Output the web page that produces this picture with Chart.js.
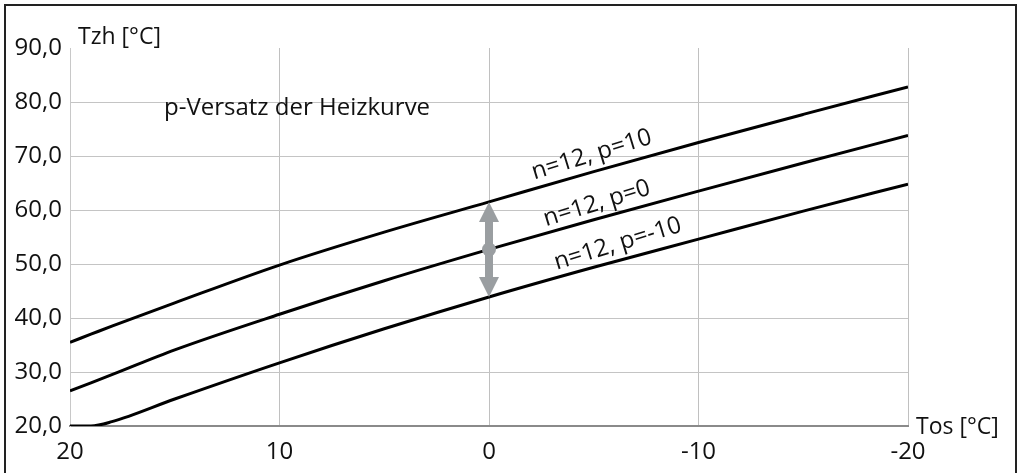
<!DOCTYPE html>
<html>
<head>
<meta charset="utf-8">
<script src="https://cdn.jsdelivr.net/npm/chart.js@4"></script>
<style>
  html, body { margin: 0; padding: 0; background: #fff; }
  #wrap { width: 1022px; height: 473px; position: relative; }
</style>
</head>
<body>
<div id="wrap"><canvas id="heizChart" width="1022" height="473"></canvas></div>
<script>
// Außentemperatur (Tos) und Vorlauftemperaturen (Tzh)
const tos = [20, 19, 18, 15, 10, 5, 0, -5, -10, -15, -20];
const tzhP10 = [35.5, 37.0, 38.5, 42.8, 49.8, 55.9, 61.5, 67.1, 72.5, 77.7, 82.8];
const tzhP0 = [26.5, 28.0, 29.5, 34.1, 40.7, 46.9, 52.7, 58.2, 63.5, 68.7, 73.8];
const tzhPm10 = [20.0, 20.0, 20.8, 25.0, 31.7, 38.0, 43.9, 49.4, 54.6, 59.8, 64.8];

// Beschriftungen der Kurven (Ankerpunkt in Datenkoordinaten)
const curveLabels = ['n=12, p=10', 'n=12, p=0', 'n=12, p=-10'];
const curveLabelTos = [-4.9, -5.15, -6.15];
const curveLabelTzh = [70.2, 61.2, 53.7];

const FONT = '"Open Sans", sans-serif';

function toPoints(ys) {
    return tos.map((x, i) => ({ x: x, y: ys[i] }));
}

function curve(ys) {
    return {
        data: toPoints(ys),
        borderColor: '#000',
        borderWidth: 3,
        pointRadius: 0,
        fill: false,
        cubicInterpolationMode: 'monotone'
    };
}

// Pfeil, Texte und Rahmen
const extras = {
    id: 'extras',
    afterDatasetsDraw(chart) {
        const c = chart.ctx;
        const xs = chart.scales.x;
        const ys = chart.scales.y;
        const a = chart.chartArea;
        const i0 = tos.indexOf(0);
        const px = xs.getPixelForValue(0);
        const yTop = ys.getPixelForValue(tzhP10[i0]);
        const yMid = ys.getPixelForValue(tzhP0[i0]);
        const yBot = ys.getPixelForValue(tzhPm10[i0]);

        c.save();
        c.fillStyle = '#9a9ea1';
        c.fillRect(px - 4, yTop + 18, 8, yBot - yTop - 36);
        c.beginPath();
        c.moveTo(px, yTop);
        c.lineTo(px + 10, yTop + 20);
        c.lineTo(px - 10, yTop + 20);
        c.closePath();
        c.fill();
        c.beginPath();
        c.moveTo(px, yBot);
        c.lineTo(px + 10, yBot - 20);
        c.lineTo(px - 10, yBot - 20);
        c.closePath();
        c.fill();
        c.beginPath();
        c.arc(px, yMid, 7, 0, Math.PI * 2);
        c.fill();

        c.fillStyle = '#111';
        c.font = '23px ' + FONT;
        c.textBaseline = 'middle';
        c.textAlign = 'left';
        c.fillText('Tzh [°C]', a.left + 8, a.top - 11);
        c.fillText('Tos [°C]', a.right + 8, a.bottom + 1);
        c.font = '24px ' + FONT;
        c.fillText('p-Versatz der Heizkurve', 164, 108);

        c.font = '24px ' + FONT;
        c.textAlign = 'center';
        curveLabels.forEach((t, i) => {
            c.save();
            c.translate(xs.getPixelForValue(curveLabelTos[i]), ys.getPixelForValue(curveLabelTzh[i]));
            c.rotate(-17 * Math.PI / 180);
            c.fillText(t, 0, 0);
            c.restore();
        });

        c.strokeStyle = '#222';
        c.lineWidth = 2;
        c.strokeRect(5, 5, 1011, 472);
        c.restore();
    }
};

const ctx = document.getElementById('heizChart').getContext('2d');

const heizChart = new Chart(ctx, {
    type: 'line',
    data: {
        datasets: [curve(tzhP10), curve(tzhP0), curve(tzhPm10)]
    },
    options: {
        responsive: false,
        animation: false,
        layout: { padding: { left: 0, right: 114, top: 48, bottom: 0 } },
        plugins: { legend: { display: false }, tooltip: { enabled: false } },
        scales: {
            x: {
                type: 'linear',
                reverse: true,
                min: -20,
                max: 20,
                afterFit(s) { s.height = 47; },
                ticks: {
                    stepSize: 10,
                    padding: 12,
                    color: '#111',
                    font: { family: FONT, size: 24 },
                    callback: v => String(v)
                },
                grid: { color: '#c0c0c0', lineWidth: 1, drawTicks: false },
                border: { color: '#8a8a8a', width: 2 }
            },
            y: {
                min: 20,
                max: 90,
                afterFit(s) { s.width = 70; },
                ticks: {
                    stepSize: 5,
                    padding: 8,
                    color: '#111',
                    font: { family: FONT, size: 24 },
                    callback: v => (v % 10 === 0 ? v.toFixed(1).replace('.', ',') : '')
                },
                grid: {
                    drawTicks: false,
                    color: c => {
                        const v = c.tick ? c.tick.value : 0;
                        if (v === 90) return 'rgba(0,0,0,0)';
                        return v % 10 === 0 ? '#c4c4c4' : '#e0e0e0';
                    }
                },
                border: { color: '#c8c8c8', width: 1 }
            }
        }
    },
    plugins: [extras]
});
</script>
</body>
</html>
